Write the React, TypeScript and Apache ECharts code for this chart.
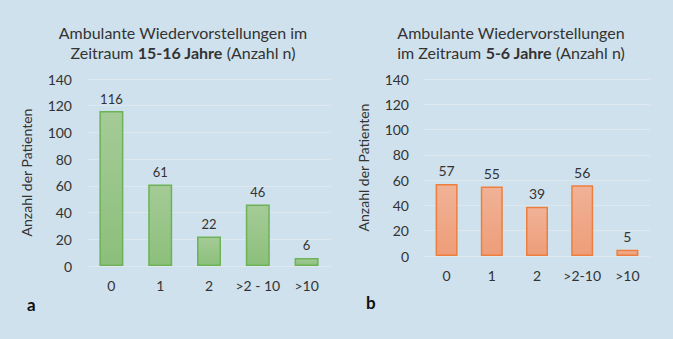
import React, { useEffect, useRef } from "react";
import * as echarts from "echarts";

const categoriesA = ["0", "1", "2", ">2 - 10", ">10"];
const valuesA = [116, 61, 22, 46, 6];
const categoriesB = ["0", "1", "2", ">2-10", ">10"];
const valuesB = [57, 55, 39, 56, 5];
const yAxisName = "Anzahl der Patienten";
const titleA = ["Ambulante Wiedervorstellungen im", "Zeitraum ", "15-16 Jahre", " (Anzahl n)"];
const titleB = ["Ambulante Wiedervorstellungen", "im Zeitraum ", "5-6 Jahre", " (Anzahl n)"];

const FONT = "Lato, 'Open Sans', sans-serif";
const BG = "#cfe1ec";
const TXT = "#333333";

export default function App() {
  const ref = useRef<HTMLDivElement>(null);
  useEffect(() => {
    if (!ref.current) return;
    const chart = echarts.init(ref.current, undefined, { renderer: "svg" });
    const yAxisBase = (gridIndex: number) => ({
      type: "value" as const,
      gridIndex,
      min: 0,
      max: 140,
      interval: 20,
      name: yAxisName,
      nameLocation: "middle" as const,
      nameGap: 54,
      nameTextStyle: { fontFamily: FONT, fontSize: 14, color: TXT },
      axisLine: { show: false },
      axisTick: { show: false },
      axisLabel: { fontFamily: FONT, fontSize: 14, color: TXT, margin: 15 },
      splitLine: { lineStyle: { color: "#dfe8ef", width: 1 } },
    });
    const xAxisBase = (gridIndex: number, data: string[]) => ({
      type: "category" as const,
      gridIndex,
      data,
      axisLine: { show: false },
      axisTick: { show: false },
      axisLabel: { fontFamily: FONT, fontSize: 14, color: TXT, margin: 12, interval: 0 },
    });
    const titleRich = {
      b: { fontFamily: FONT, fontSize: 16, fontWeight: "bold" as const, color: TXT, lineHeight: 20 },
    };
    chart.setOption({
      animation: false,
      backgroundColor: BG,
      title: [
        {
          text: `${titleA[0]}\n${titleA[1]}{b|${titleA[2]}}${titleA[3]}`,
          left: 178,
          top: 17,
          textAlign: "center",
          textStyle: { fontFamily: FONT, fontSize: 16, fontWeight: "normal", color: TXT, lineHeight: 20, rich: titleRich },
        },
        {
          text: `${titleB[0]}\n${titleB[1]}{b|${titleB[2]}}${titleB[3]}`,
          left: 506,
          top: 17,
          textAlign: "center",
          textStyle: { fontFamily: FONT, fontSize: 16, fontWeight: "normal", color: TXT, lineHeight: 20, rich: titleRich },
        },
      ],
      grid: [
        { left: 87, width: 244, top: 79, height: 187 },
        { left: 424, width: 226, top: 79, height: 177 },
      ],
      xAxis: [xAxisBase(0, categoriesA), xAxisBase(1, categoriesB)],
      yAxis: [yAxisBase(0), yAxisBase(1)],
      series: [
        {
          type: "bar",
          xAxisIndex: 0,
          yAxisIndex: 0,
          data: valuesA,
          barWidth: 24,
          itemStyle: {
            color: new echarts.graphic.LinearGradient(0, 0, 0, 1, [
              { offset: 0, color: "#a5cb97" },
              { offset: 1, color: "#8cbf7b" },
            ]),
            borderColor: "#6cb357",
            borderWidth: 1.5,
          },
          label: { show: true, position: "top", distance: 6, fontFamily: FONT, fontSize: 13, color: TXT },
        },
        {
          type: "bar",
          xAxisIndex: 1,
          yAxisIndex: 1,
          data: valuesB,
          barWidth: 22,
          itemStyle: {
            color: new echarts.graphic.LinearGradient(0, 0, 0, 1, [
              { offset: 0, color: "#f0b297" },
              { offset: 1, color: "#ee9d79" },
            ]),
            borderColor: "#ed7f3e",
            borderWidth: 1.5,
          },
          label: { show: true, position: "top", distance: 6, fontFamily: FONT, fontSize: 14, color: TXT },
        },
      ],
      graphic: [
        { type: "text", left: 27, top: 296, style: { text: "a", font: `bold 17px ${FONT}`, fill: "#111" } },
        { type: "text", left: 366, top: 294, style: { text: "b", font: `bold 17px ${FONT}`, fill: "#111" } },
      ],
    });
    return () => chart.dispose();
  }, []);
  return (
    <div
      ref={ref}
      style={{ position: "absolute", left: 0, top: 0, width: 673, height: 339, background: BG }}
    />
  );
}
